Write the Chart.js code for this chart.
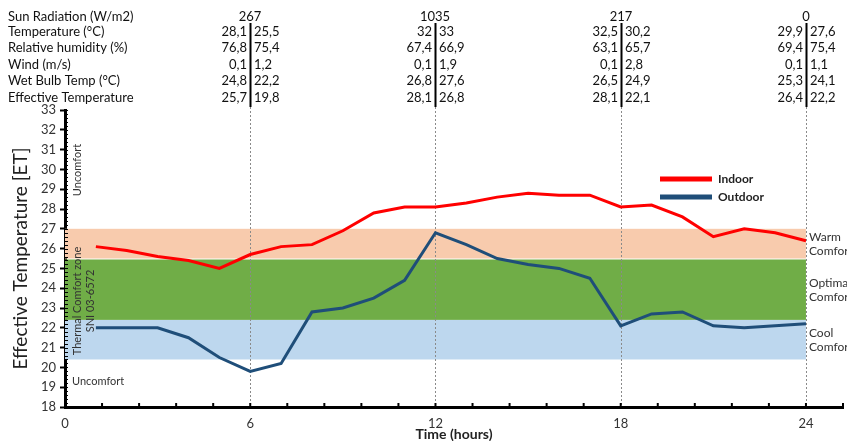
<!DOCTYPE html>
<html>
<head>
<meta charset="utf-8">
<script src="https://cdn.jsdelivr.net/npm/chart.js@4.4.1/dist/chart.umd.min.js"></script>
<style>
  html, body { margin: 0; padding: 0; background: #fff; }
  #wrap { width: 847px; height: 441px; position: relative; }
</style>
</head>
<body>
<div id="wrap"><canvas id="etChart" width="847" height="441"></canvas></div>
<script>
// ── Data ──────────────────────────────────────────
const hours   = [1, 2, 3, 4, 5, 6, 7, 8, 9, 10, 11, 12, 13, 14, 15, 16, 17, 18, 19, 20, 21, 22, 23, 24];
const indoor  = [26.1, 25.9, 25.6, 25.4, 25.0, 25.7, 26.1, 26.2, 26.9, 27.8, 28.1, 28.1,
                 28.3, 28.6, 28.8, 28.7, 28.7, 28.1, 28.2, 27.6, 26.6, 27.0, 26.8, 26.4];
const outdoor = [22.0, 22.0, 22.0, 21.5, 20.5, 19.8, 20.2, 22.8, 23.0, 23.5, 24.4, 26.8,
                 26.2, 25.5, 25.2, 25.0, 24.5, 22.1, 22.7, 22.8, 22.1, 22.0, 22.1, 22.2];

// comfort bands (ET), SNI 03-6572
const bandNames  = [['Cool', 'Comfort'], ['Optimal', 'Comfort'], ['Warm', 'Comfort']];
const bandLow    = [20.4, 22.4, 25.5];
const bandHigh   = [22.4, 25.45, 27.0];
const bandColors = ['#bdd7ee', '#70ad47', '#f8cbad'];

// measurement table above the chart
const tableHours   = [6, 12, 18, 24];
const sunRadiation = ['267', '1035', '217', '0'];
const rowLabels = ['Temperature (°C)', 'Relative humidity (%)', 'Wind (m/s)', 'Wet Bulb Temp (°C)', 'Effective Temperature'];
const tempIn  = ['28,1', '32', '32,5', '29,9'];
const tempOut = ['25,5', '33', '30,2', '27,6'];
const rhIn    = ['76,8', '67,4', '63,1', '69,4'];
const rhOut   = ['75,4', '66,9', '65,7', '75,4'];
const windIn  = ['0,1', '0,1', '0,1', '0,1'];
const windOut = ['1,2', '1,9', '2,8', '1,1'];
const wbIn    = ['24,8', '26,8', '26,5', '25,3'];
const wbOut   = ['22,2', '27,6', '24,9', '24,1'];
const etIn    = ['25,7', '28,1', '28,1', '26,4'];
const etOut   = ['19,8', '26,8', '22,1', '22,2'];

const FONT = "Lato, 'Open Sans', sans-serif";
const RED = '#ff0000';
const BLUE = '#1f4e79';

// ── Background bands ──────────────────────────────
const bandsPlugin = {
  id: 'bands',
  beforeDatasetsDraw(chart) {
    const { ctx, scales: { x, y } } = chart;
    const x0 = x.getPixelForValue(0), x1 = x.getPixelForValue(24);
    ctx.save();
    bandLow.forEach((lo, i) => {
      const top = y.getPixelForValue(bandHigh[i]);
      const bot = y.getPixelForValue(lo);
      ctx.fillStyle = bandColors[i];
      ctx.fillRect(x0, top, x1 - x0, bot - top);
    });
    // dotted hour markers
    ctx.strokeStyle = '#8a8a8a';
    ctx.lineWidth = 1;
    ctx.setLineDash([2, 2]);
    tableHours.forEach(h => {
      const px = Math.round(x.getPixelForValue(h)) + 0.5;
      ctx.beginPath();
      ctx.moveTo(px, 107);
      ctx.lineTo(px, y.bottom);
      ctx.stroke();
    });
    ctx.restore();
  }
};

// ── Annotations, table, legend, ruler ticks ──────
const overlayPlugin = {
  id: 'overlay',
  afterDraw(chart) {
    const { ctx, scales: { x, y } } = chart;
    ctx.save();

    // y minor ticks (ruler look)
    ctx.strokeStyle = '#000';
    ctx.lineWidth = 1;
    for (let v = 18; v <= 33.001; v += 0.2) {
      const py = Math.round(y.getPixelForValue(v)) + 0.5;
      ctx.beginPath();
      ctx.moveTo(x.left, py);
      ctx.lineTo(x.left + 3, py);
      ctx.stroke();
    }
    // x ticks pointing up
    ctx.lineWidth = 2;
    for (let i = 0; i <= 21; i++) {
      const px = x.getPixelForValue(i * 1.2);
      ctx.beginPath();
      ctx.moveTo(px, y.bottom);
      ctx.lineTo(px, y.bottom - 4);
      ctx.stroke();
    }

    // band labels on the right
    ctx.fillStyle = '#333';
    ctx.font = `12px ${FONT}`;
    ctx.textAlign = 'left';
    ctx.textBaseline = 'middle';
    const xr = x.getPixelForValue(24) + 3;
    bandNames.forEach((lines, i) => {
      const mid = y.getPixelForValue((bandLow[i] + bandHigh[i]) / 2);
      ctx.fillText(lines[0], xr, mid - 7);
      ctx.fillText(lines[1], xr, mid + 7);
    });

    // left side notes
    ctx.font = `11px ${FONT}`;
    ctx.fillText('Uncomfort', x.left + 7, 381);
    ctx.save();
    ctx.translate(x.left + 12, 170);
    ctx.rotate(-Math.PI / 2);
    ctx.textAlign = 'center';
    ctx.fillText('Uncomfort', 0, 0);
    ctx.restore();
    ctx.save();
    ctx.translate(x.left + 12, 301);
    ctx.rotate(-Math.PI / 2);
    ctx.textAlign = 'center';
    ctx.fillText('Thermal Comfort zone', 0, 0);
    ctx.fillText('SNI 03-6572', 0, 13);
    ctx.restore();

    // legend
    ctx.lineWidth = 5;
    [[RED, 'Indoor', 179], [BLUE, 'Outdoor', 197]].forEach(([c, label, py]) => {
      ctx.strokeStyle = c;
      ctx.beginPath();
      ctx.moveTo(660, py);
      ctx.lineTo(712, py);
      ctx.stroke();
      ctx.fillStyle = '#222';
      ctx.font = `bold 12px ${FONT}`;
      ctx.fillText(label, 718, py);
    });

    // table
    const rowY = [32, 48, 65, 81, 98];
    ctx.fillStyle = '#111';
    ctx.font = `13px ${FONT}`;
    ctx.textAlign = 'left';
    ctx.fillText('Sun Radiation (W/m2)', 8, 17);
    rowLabels.forEach((l, i) => ctx.fillText(l, 8, rowY[i]));
    const inCols  = [tempIn, rhIn, windIn, wbIn, etIn];
    const outCols = [tempOut, rhOut, windOut, wbOut, etOut];
    tableHours.forEach((h, j) => {
      const px = Math.round(x.getPixelForValue(h));
      ctx.fillStyle = '#111';
      ctx.textAlign = 'center';
      ctx.fillText(sunRadiation[j], px, 17);
      rowY.forEach((ry, i) => {
        ctx.textAlign = 'right';
        ctx.fillText(inCols[i][j], px - 3, ry);
        ctx.textAlign = 'left';
        ctx.fillText(outCols[i][j], px + 4, ry);
      });
      ctx.fillStyle = '#000';
      ctx.fillRect(px - 0.5, 23, 2, 84);
    });

    ctx.restore();
  }
};

// ── Chart ─────────────────────────────────────────
const toPoints = arr => arr.map((v, i) => ({ x: hours[i], y: v }));

new Chart(document.getElementById('etChart'), {
  type: 'line',
  data: {
    datasets: [
      { label: 'Indoor', data: toPoints(indoor), borderColor: RED, borderWidth: 3, pointRadius: 0, tension: 0 },
      { label: 'Outdoor', data: toPoints(outdoor), borderColor: BLUE, borderWidth: 3, pointRadius: 0, tension: 0 }
    ]
  },
  options: {
    responsive: false,
    animation: false,
    layout: { padding: { top: 110, right: 4, left: 0, bottom: 0 } },
    plugins: { legend: { display: false }, tooltip: { enabled: false } },
    scales: {
      x: {
        type: 'linear',
        min: 0,
        max: 25.2,
        afterFit: s => { s.height = 34; },
        grid: { display: false },
        border: { display: true, color: '#000', width: 3 },
        ticks: {
          stepSize: 1.2,
          autoSkip: false,
          maxRotation: 0,
          padding: 1,
          color: '#333',
          font: { size: 13, family: FONT },
          callback: v => {
            const r = Math.round(v * 10) / 10;
            return r % 6 === 0 ? String(r) : '';
          }
        },
        title: {
          display: true,
          text: 'Time (hours)',
          color: '#222',
          font: { size: 14, weight: 'bold', family: FONT, lineHeight: 1 },
          padding: { top: 1, bottom: 0 }
        }
      },
      y: {
        min: 18,
        max: 33,
        afterFit: s => { s.width = 65; },
        grid: { display: true, drawOnChartArea: false, tickLength: 5, color: '#000', tickWidth: 2 },
        border: { display: true, color: '#000', width: 3 },
        ticks: { stepSize: 1, padding: 4, color: '#333', font: { size: 13, family: FONT } },
        title: {
          display: true,
          text: 'Effective Temperature [ET]',
          color: '#222',
          font: { size: 19, family: FONT },
          padding: { top: 9, bottom: 0 }
        }
      }
    }
  },
  plugins: [bandsPlugin, overlayPlugin]
});
</script>
</body>
</html>
